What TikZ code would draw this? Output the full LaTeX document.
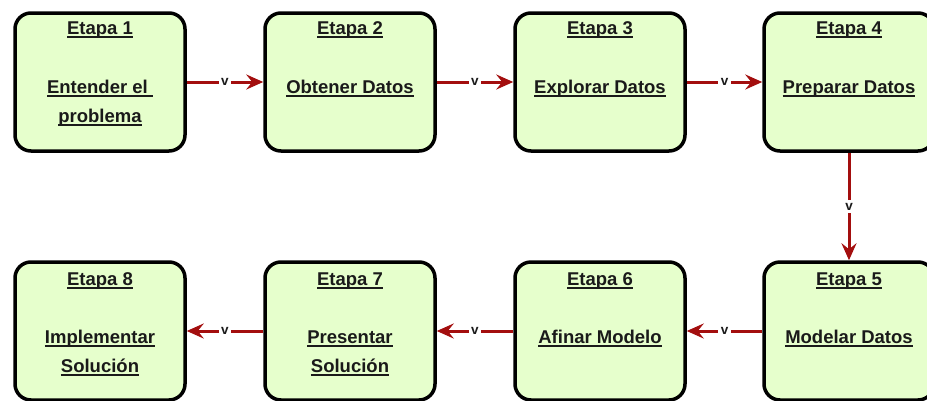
\documentclass[tikz,border=0pt]{standalone}
\usepackage{fontspec}
\setmainfont{Liberation Sans}
\usetikzlibrary{arrows.meta}
\definecolor{boxfill}{HTML}{E6FFCC}
\definecolor{arrowred}{HTML}{A30E0E}
\definecolor{txt}{HTML}{1A1A1A}
\newsavebox{\ulxbox}
\newcommand{\ulx}[1]{\sbox{\ulxbox}{#1}\mbox{\rlap{\usebox{\ulxbox}}\rule[-3.5pt]{\wd\ulxbox}{1.4pt}}}
\tikzset{
  stagebox/.style={draw=black, line width=3.5pt, fill=boxfill, rounded corners=16pt,
    minimum width=170pt, minimum height=138pt, inner sep=0pt},
  stagetxt/.style={font=\bfseries\fontsize{18.5pt}{21pt}\selectfont, text=txt, inner sep=0pt, anchor=base},
  flow/.style={draw=arrowred, line width=3pt, -{Stealth[length=17pt,width=15pt,inset=6pt]}},
  vlab/.style={fill=white, font=\bfseries\fontsize{13.5pt}{15pt}\selectfont, text=txt, inner sep=2.5pt}
}
\begin{document}
\begin{tikzpicture}[x=1pt,y=-1pt]
\useasboundingbox (0,0) rectangle (927,400);
% boxes
\node[stagebox] (b1) at (100,82) {};
\node[stagebox] (b2) at (350,82) {};
\node[stagebox] (b3) at (600,82) {};
\node[stagebox] (b4) at (849,82) {};
\node[stagebox] (b5) at (849,331) {};
\node[stagebox] (b6) at (600,331) {};
\node[stagebox] (b7) at (350,331) {};
\node[stagebox] (b8) at (100,331) {};
% texts top row
\node[stagetxt] (e1) at (100,34) {\ulx{Etapa 1}};
\node[stagetxt] (l1a) at (100,93) {\ulx{Entender el }};
\node[stagetxt] (l1b) at (100,122) {\ulx{problema}};
\node[stagetxt] (e2) at (350,34) {\ulx{Etapa 2}};
\node[stagetxt] (l2) at (350,93) {\ulx{Obtener Datos}};
\node[stagetxt] (e3) at (600,34) {\ulx{Etapa 3}};
\node[stagetxt] (l3) at (600,93) {\ulx{Explorar Datos}};
\node[stagetxt] (e4) at (849,34) {\ulx{Etapa 4}};
\node[stagetxt] (l4) at (849,93) {\ulx{Preparar Datos}};
% texts bottom row
\node[stagetxt] (e5) at (849,285) {\ulx{Etapa 5}};
\node[stagetxt] (l5) at (849,343) {\ulx{Modelar Datos}};
\node[stagetxt] (e6) at (600,285) {\ulx{Etapa 6}};
\node[stagetxt] (l6) at (600,343) {\ulx{Afinar Modelo}};
\node[stagetxt] (e7) at (350,285) {\ulx{Etapa 7}};
\node[stagetxt] (l7a) at (350,343) {\ulx{Presentar}};
\node[stagetxt] (l7b) at (350,372) {\ulx{Solución}};
\node[stagetxt] (e8) at (100,285) {\ulx{Etapa 8}};
\node[stagetxt] (l8a) at (100,343) {\ulx{Implementar}};
\node[stagetxt] (l8b) at (100,372) {\ulx{Solución}};
% connectors
\draw[flow] (b1.east) -- node[vlab] {v} (b2.west);
\draw[flow] (b2.east) -- node[vlab] {v} (b3.west);
\draw[flow] (b3.east) -- node[vlab] {v} (b4.west);
\draw[flow] (b4.south) -- node[vlab] {v} (b5.north);
\draw[flow] (b5.west) -- node[vlab] {v} (b6.east);
\draw[flow] (b6.west) -- node[vlab] {v} (b7.east);
\draw[flow] (b7.west) -- node[vlab] {v} (b8.east);
\end{tikzpicture}
\end{document}
